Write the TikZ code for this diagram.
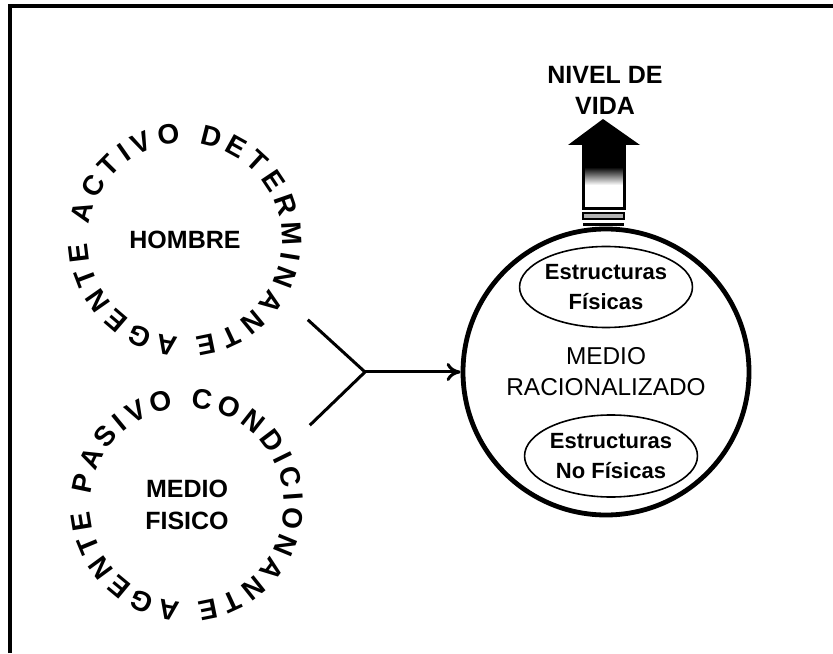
\documentclass[tikz,border=0pt]{standalone}
\usepackage{fontspec}
\setmainfont{Liberation Sans}
\usetikzlibrary{arrows.meta,decorations.text,shapes.geometric}
\newcommand\ringfont{\fontsize{14}{16}\selectfont\bfseries}
\tikzset{
        zone/.style={circle,minimum size=146pt,inner sep=0pt,align=center,font=\fontsize{12.5}{16}\selectfont\bfseries},
        ringtext/.style={decorate,decoration={text along path,text align={fit to path},text={|\ringfont|#1}}},
        bigcircle/.style={circle,draw,line width=2.4pt,minimum size=143pt,inner sep=0pt,align=center,font=\fontsize{12.2}{15.5}\selectfont},
        estr/.style={ellipse,draw,line width=0.8pt,minimum width=78.5pt,minimum height=40.5pt,inner sep=0pt,align=center,font=\fontsize{11}{15}\selectfont\bfseries},
        link/.style={line width=1.5pt}
}
\begin{document}
\begin{tikzpicture}[x=0.5pt,y=0.5pt]
        \useasboundingbox (0,0) rectangle (833,653);
        \draw[line width=2pt] (9.5,0) |- (833,646.5);
        \node[zone] (hombre) at (185,413) {HOMBRE};
        \node[zone] (fisico) at (187,148) {MEDIO\\FISICO};
        \path[ringtext={AGENTE ACTIVO DETERMINANTE},shift={(hombre.center)}] (266:97) arc[start angle=266,end angle=-84,radius=97];
        \path[ringtext={AGENTE PASIVO CONDICIONANTE},shift={(fisico.center)}] (266:97) arc[start angle=266,end angle=-84,radius=97];
        \node[bigcircle] (racional) at (606,281) {MEDIO\\RACIONALIZADO};
        \node[estr] (fisicas) at (606,366) {Estructuras\\Físicas};
        \node[estr,minimum width=86pt,minimum height=41pt] (nofisicas) at (611,197) {Estructuras\\No Físicas};
        \coordinate (j) at (365,281);
        \foreach \n/\a in {hombre/-33,fisico/33}
        {
                \draw[link] (\n.\a) -- (j);
        }
        \draw[link,-{To[length=7pt,width=9pt]}] (j) -- (racional);
        \fill (583,486) -- (583,508) -- (568,508) -- (603,534) -- (640,508) -- (624,508) -- (624,486) -- cycle;
        \shade[top color=black,bottom color=white] (583,486) rectangle (624,468);
        \draw[line width=1.5pt] (583,508) rectangle (624,444);
        \draw[line width=1pt,fill=black!30] (583,440) rectangle (624,434);
        \fill (583,430) rectangle (624,427);
        \node[align=center,font=\fontsize{12.5}{15.5}\selectfont\bfseries] (nivel) at (605,563) {NIVEL DE\\VIDA};
\end{tikzpicture}
\end{document}
